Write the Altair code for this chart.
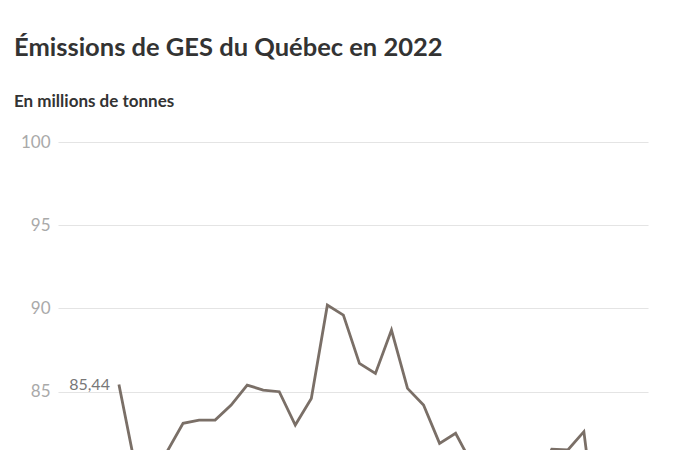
import altair as alt
import pandas as pd

years = list(range(1990, 2023))
emissions = [85.44, 80.6, 80.4, 81.4, 83.1, 83.3, 83.3, 84.2, 85.4, 85.1,
             85.0, 83.0, 84.6, 90.2, 89.6, 86.7, 86.1, 88.7, 85.2, 84.2,
             81.9, 82.5, 80.7, 80.9, 79.3, 79.6, 79.5, 81.55, 81.5, 82.6,
             75.0, 76.8, 77.3]
label_years = [1990]
label_texts = ["85,44"]

df = pd.DataFrame({"annee": years, "emissions": emissions})
lab = pd.DataFrame({"annee": label_years, "texte": label_texts,
                    "emissions": [emissions[years.index(y)] for y in label_years]})

FONT = "Lato"

x = alt.X("annee:Q", scale=alt.Scale(domain=[1986.2, 2023.0], nice=False, zero=False), axis=None)
y = alt.Y("emissions:Q",
          scale=alt.Scale(domain=[81.5, 100], nice=False, zero=False),
          axis=alt.Axis(values=[85, 90, 95, 100], title=None, domain=False, ticks=False,
                        grid=True, gridColor="#e4e4e4", gridWidth=1.2,
                        labelColor="#a9a9a9", labelFontSize=17, labelFont=FONT,
                        labelPadding=8))

line = alt.Chart(df).mark_line(color="#7a6f67", strokeWidth=2.8, clip=True).encode(x=x, y=y)

text = alt.Chart(lab).mark_text(align="right", baseline="middle", dx=-9, dy=1,
                                fontSize=16, font=FONT, color="#777777").encode(
    x=x, y=y, text="texte:N")

chart = alt.layer(line, text).properties(
    width=590, height=308,
    autosize=alt.AutoSizeParams(type="none"),
    padding={"left": 58, "top": 142, "right": 52, "bottom": 0},
    title=alt.TitleParams(
        text="Émissions de GES du Québec en 2022",
        subtitle="En millions de tonnes",
        anchor="start", frame="group", dx=-44, offset=23,
        font=FONT, fontSize=25.5, fontWeight="bold", color="#333333",
        subtitleFont=FONT, subtitleFontSize=17, subtitleFontWeight="bold",
        subtitleColor="#333333", subtitlePadding=33,
    ),
).configure_view(stroke=None)

chart.save("out.html", embed_options={"renderer": "svg", "actions": False})
